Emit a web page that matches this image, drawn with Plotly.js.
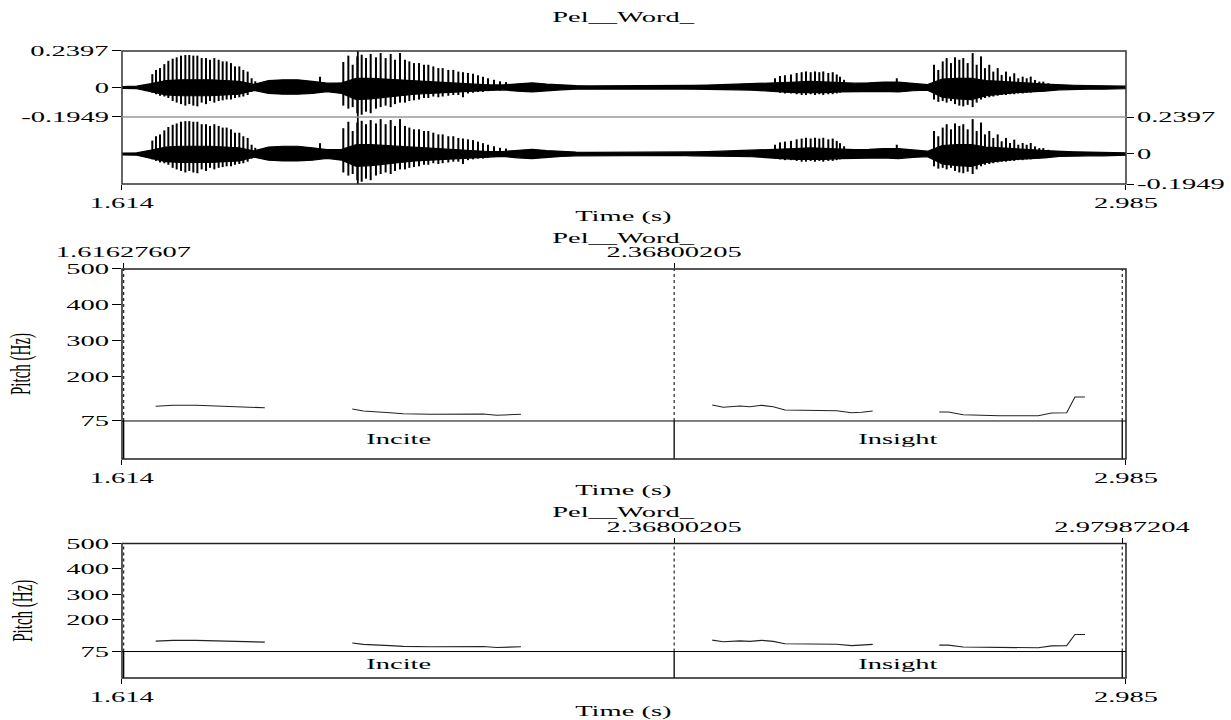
<!DOCTYPE html>
<html>
<head>
<meta charset="utf-8">
<script src="https://cdn.plot.ly/plotly-3.0.1.min.js"></script>
<style>
  html, body { margin: 0; padding: 0; background: #fff; }
  #chart { width: 1231px; height: 720px; }
</style>
</head>
<body>
<div id="chart"></div>
<script>
// ---------------- DATA ----------------
const tierName = 'Pel__Word_';
const timeRange = [1.614, 2.985];
const timeTickText = ['1.614', '2.985'];

const ampRange = [-0.1949, 0.2397];
const ampTickVals = [-0.1949, 0, 0.2397];
const ampTickText = ['-0.1949', '0', '0.2397'];

// waveform body envelope (continuous band), read every 20 ms
const bodyTime = [
  1.614,1.634,1.654,1.674,1.694,1.714,1.734,1.754,1.774,1.794,
  1.814,1.834,1.854,1.874,1.894,1.914,1.934,1.954,1.974,1.994,
  2.014,2.034,2.054,2.074,2.094,2.114,2.134,2.154,2.174,2.194,
  2.214,2.234,2.254,2.274,2.294,2.314,2.334,2.354,2.374,2.394,
  2.414,2.434,2.454,2.474,2.494,2.514,2.534,2.554,2.574,2.594,
  2.614,2.634,2.654,2.674,2.694,2.714,2.734,2.754,2.774,2.794,
  2.814,2.834,2.854,2.874,2.894,2.914,2.934,2.954,2.974,2.985
];
const bodyTop = [
  .006,.008,.025,.045,.05,.05,.05,.045,.04,.02,
  .045,.05,.05,.04,.028,.03,.06,.06,.055,.05,
  .045,.04,.035,.03,.022,.016,.016,.025,.03,.022,
  .016,.012,.01,.01,.01,.009,.01,.01,.011,.013,
  .015,.018,.02,.022,.025,.03,.035,.04,.035,.03,
  .028,.03,.035,.035,.028,.018,.055,.06,.06,.045,
  .04,.032,.028,.022,.016,.014,.012,.012,.01,.008
];
const bodyBot = [
  -.006,-.008,-.03,-.05,-.055,-.055,-.055,-.05,-.045,-.02,
  -.04,-.045,-.045,-.04,-.028,-.04,-.08,-.075,-.065,-.055,
  -.045,-.04,-.035,-.03,-.025,-.02,-.016,-.025,-.03,-.022,
  -.016,-.012,-.012,-.01,-.01,-.01,-.01,-.01,-.01,-.012,
  -.015,-.016,-.016,-.018,-.022,-.03,-.035,-.035,-.035,-.03,
  -.026,-.026,-.026,-.03,-.022,-.018,-.065,-.075,-.08,-.055,
  -.045,-.035,-.03,-.025,-.016,-.014,-.012,-.012,-.01,-.008
];

// glottal pulse spikes: time, positive peak, negative trough
const spikeTime = [
  1.6554,1.6604,1.6659,1.6718,1.6773,1.6832,1.6887,1.6946,1.7005,1.7059,
  1.7114,1.7169,1.7228,1.7287,1.7342,1.7401,1.7460,1.7515,1.7569,1.7628,
  1.7683,1.7742,1.7797,1.7856,1.7910,1.7960,1.8844,
  1.9162,1.9231,1.9290,1.9353,1.9413,1.9472,1.9536,1.9608,1.9672,1.9740,
  1.9809,1.9868,1.9936,2.0004,2.0064,2.0127,2.0196,2.0264,2.0323,2.0391,
  2.0460,2.0519,2.0596,2.0664,2.0733,2.0796,2.0864,2.0933,2.1001,2.1069,
  2.1138,2.1220,2.1302,2.1384,
  2.5057,2.5125,2.5193,2.5275,2.5353,2.5421,2.5480,2.5544,2.5603,2.5662,
  2.5716,2.5785,2.5845,2.5900,2.5945,2.6000,2.6720,
  2.7228,2.7287,2.7347,2.7401,2.7460,2.7515,2.7574,2.7628,2.7688,2.7756,
  2.7811,2.7870,2.7924,2.7983,2.8038,2.8098,2.8152,2.8211,2.8266,2.8324,
  2.8379,2.8439,2.8494,2.8549,2.8607,2.8666,2.8721,2.8789
];
const spikeTop = [
  .087,.115,.127,.153,.175,.189,.198,.209,.213,.213,
  .209,.209,.193,.193,.182,.193,.182,.171,.171,.160,
  .138,.138,.115,.104,.06,.04,.07,
  .167,.209,.149,.204,.215,.193,.220,.198,.226,.193,
  .220,.182,.226,.182,.171,.160,.160,.149,.149,.138,
  .127,.127,.115,.115,.104,.10,.095,.09,.08,.07,
  .06,.05,.04,.035,
  .06,.075,.08,.085,.095,.10,.105,.10,.105,.10,
  .105,.095,.10,.085,.07,.05,.06,
  .149,.115,.171,.193,.160,.198,.182,.193,.160,.226,
  .149,.204,.127,.149,.104,.127,.082,.104,.071,.093,
  .06,.071,.06,.071,.049,.038,.038,.027
];
const spikeBot = [
  -.035,-.045,-.055,-.06,-.07,-.09,-.10,-.11,-.12,-.11,
  -.12,-.125,-.10,-.11,-.09,-.10,-.09,-.085,-.08,-.08,
  -.07,-.065,-.06,-.05,-.03,-.02,-.03,
  -.12,-.14,-.13,-.17,-.18,-.16,-.17,-.14,-.13,-.12,
  -.13,-.11,-.10,-.10,-.09,-.085,-.08,-.07,-.07,-.06,
  -.065,-.06,-.055,-.05,-.05,-.065,-.04,-.035,-.03,-.03,
  -.025,-.02,-.02,-.015,
  -.03,-.035,-.04,-.04,-.045,-.05,-.05,-.045,-.05,-.045,
  -.05,-.045,-.045,-.04,-.035,-.03,-.03,
  -.08,-.095,-.09,-.10,-.09,-.11,-.12,-.125,-.115,-.13,
  -.10,-.08,-.07,-.065,-.06,-.055,-.05,-.05,-.045,-.045,
  -.04,-.04,-.035,-.035,-.03,-.03,-.025,-.02
];
const cursorTime = [1.936];

// pitch contour (Hz), null = unvoiced gap
const pitchTime = [
  1.660,1.684,1.715,1.755,1.775,1.809, null,
  1.9285,1.9436,1.980,1.998,2.0346,2.1074,2.1256,2.1438,2.1588, null,
  2.4200,2.4350,2.4579,2.4715,2.4875,2.5033,2.5193,2.5580,2.5899,2.6104,2.6240,2.6391, null,
  2.7300,2.7423,2.7628,2.8129,2.8652,2.8834,2.9040,2.9153,2.9290
];
const pitchHz = [
  116,119,119,116,113,112, null,
  108.6,103,98.2,95.4,93.7,94.6,91,92.6,93.7, null,
  119.7,113.3,117,115,118.9,115,105.8,103.8,103.8,98.2,99.3,103, null,
  100.2,100.2,92.6,89.8,89.8,97.4,98.2,142.1,142.1
];
const pitchRange = [75, 500];
const pitchTicks = [75, 200, 300, 400, 500];

// TextGrid tier
const boundaries = [1.61627607, 2.36800205, 2.97987204];
const boundaryLabels = ['1.61627607', '2.36800205', '2.97987204'];
const intervalLabels = ['Incite', 'Insight'];

// ---------------- LAYOUT CONSTANTS ----------------
const X_DOM = [0.0991, 0.9147];
const CH1 = [0.8375, 0.9292], CH2 = [0.7444, 0.8375];
const P2 = [0.4153, 0.6264], T2 = [0.3625, 0.4153];
const P3 = [0.0951, 0.2451], T3 = [0.0583, 0.0951];
const FONT = { family: 'Liberation Serif, Times New Roman, serif', size: 15, color: '#000' };
const STRETCH = 1.9;

function vSegs(xs, y0s, y1s) {
  const x = [], y = [];
  xs.forEach((t, i) => { x.push(t, t, null); y.push(y0s[i], y1s[i], null); });
  return { x, y };
}
const constArr = (n, v) => Array(n).fill(v);

const traces = [];
// waveform – both channels
const polyX = bodyTime.concat(bodyTime.slice().reverse());
const polyY = bodyTop.concat(bodyBot.slice().reverse());
const spk = vSegs(spikeTime, spikeBot, spikeTop);
const cur = vSegs(cursorTime, [ampRange[0]], [ampRange[1]]);
['y', 'y2'].forEach(ya => {
  traces.push({ x: polyX, y: polyY, xaxis: 'x', yaxis: ya, mode: 'lines', fill: 'toself',
    fillcolor: '#000', line: { color: '#000', width: 1.2 }, hoverinfo: 'skip' });
  traces.push({ x: spk.x, y: spk.y, xaxis: 'x', yaxis: ya, mode: 'lines',
    line: { color: '#000', width: 2 }, hoverinfo: 'skip' });
  traces.push({ x: cur.x, y: cur.y, xaxis: 'x', yaxis: ya, mode: 'lines',
    line: { color: '#000', width: 1.8 }, hoverinfo: 'skip' });
});

// pitch + tier panels
const centers = intervalLabels.map((_, i) => (boundaries[i] + boundaries[i + 1]) / 2);
[['x3', 'y3', 'y4', 'x5'], ['x4', 'y5', 'y6', 'x6']].forEach(([xa, yp, yt, xtop]) => {
  traces.push({ x: pitchTime, y: pitchHz, xaxis: xa, yaxis: yp, mode: 'lines',
    connectgaps: false, line: { color: '#222', width: 1.1 }, hoverinfo: 'skip' });
  const bd = vSegs(boundaries, constArr(3, pitchRange[0]), constArr(3, pitchRange[1]));
  traces.push({ x: bd.x, y: bd.y, xaxis: xtop, yaxis: yp, mode: 'lines',
    line: { color: '#222', width: 1.2, dash: 'dot' }, hoverinfo: 'skip' });
  const bt = vSegs(boundaries, constArr(3, 0), constArr(3, 1));
  traces.push({ x: bt.x, y: bt.y, xaxis: xa, yaxis: yt, mode: 'lines',
    line: { color: '#000', width: 1.3 }, hoverinfo: 'skip' });
  traces.push({ x: centers, y: [0.5, 0.5], xaxis: xa, yaxis: yt, mode: 'text',
    text: intervalLabels, textfont: FONT, textposition: 'middle center', hoverinfo: 'skip' });
});

const baseX = { domain: X_DOM, range: timeRange, showgrid: false, zeroline: false, showline: false,
  tickfont: FONT, tickcolor: '#000', ticks: 'outside', ticklen: 5, tickwidth: 1 };
const baseY = { showgrid: false, zeroline: false, showline: false, tickfont: FONT,
  tickcolor: '#000', tickwidth: 1 };

const layout = {
  width: 1231, height: 720,
  margin: { l: 0, r: 0, t: 0, b: 0 },
  paper_bgcolor: '#fff', plot_bgcolor: 'rgba(0,0,0,0)',
  showlegend: false, font: FONT,
  xaxis: Object.assign({}, baseX, { anchor: 'y2', tickvals: timeRange, ticktext: timeTickText }),
  yaxis: Object.assign({}, baseY, { domain: CH1, range: ampRange, anchor: 'x',
    tickvals: ampTickVals, ticktext: ampTickText, ticks: 'outside', ticklen: 9 }),
  yaxis2: Object.assign({}, baseY, { domain: CH2, range: ampRange, anchor: 'x', side: 'right',
    tickvals: ampTickVals, ticktext: ampTickText, ticks: 'outside', ticklen: 7 }),
  xaxis3: Object.assign({}, baseX, { anchor: 'y4', tickvals: timeRange, ticktext: timeTickText }),
  yaxis3: Object.assign({}, baseY, { domain: P2, range: pitchRange, anchor: 'x3',
    tickvals: pitchTicks, ticks: 'outside', ticklen: 9 }),
  yaxis4: Object.assign({}, baseY, { domain: T2, range: [0, 1], anchor: 'x3',
    showticklabels: false, ticks: '' }),
  xaxis5: Object.assign({}, baseX, { anchor: 'y3', side: 'top',
    tickvals: boundaries.slice(0, 2), ticktext: boundaryLabels.slice(0, 2), ticklen: 5 }),
  xaxis4: Object.assign({}, baseX, { anchor: 'y6', tickvals: timeRange, ticktext: timeTickText }),
  yaxis5: Object.assign({}, baseY, { domain: P3, range: pitchRange, anchor: 'x4',
    tickvals: pitchTicks, ticks: 'outside', ticklen: 9 }),
  yaxis6: Object.assign({}, baseY, { domain: T3, range: [0, 1], anchor: 'x4',
    showticklabels: false, ticks: '' }),
  xaxis6: Object.assign({}, baseX, { anchor: 'y5', side: 'top',
    tickvals: boundaries.slice(1, 3), ticktext: boundaryLabels.slice(1, 3), ticklen: 5 }),
  shapes: [],
  annotations: []
};

function frame(y0, y1, color, w) {
  layout.shapes.push({ type: 'rect', xref: 'paper', yref: 'paper', x0: X_DOM[0], x1: X_DOM[1],
    y0: y0, y1: y1, line: { color: color, width: w }, fillcolor: 'rgba(0,0,0,0)' });
}
function hline(y, color, w) {
  layout.shapes.push({ type: 'line', xref: 'paper', yref: 'paper', x0: X_DOM[0], x1: X_DOM[1],
    y0: y, y1: y, line: { color: color, width: w } });
}
frame(CH2[0], CH1[1], '#333', 1.5);
hline(CH1[0], '#999', 1.5);
frame(T2[0], P2[1], '#222', 1.5);
hline(P2[0], '#000', 1);
frame(T3[0], P3[1], '#222', 1.5);
hline(P3[0], '#000', 1);

const midX = (X_DOM[0] + X_DOM[1]) / 2;
function ann(text, x, y, yshift, extra) {
  layout.annotations.push(Object.assign({ text: text, xref: 'paper', yref: 'paper', x: x, y: y,
    xanchor: 'center', yanchor: 'middle', yshift: yshift, showarrow: false, font: FONT }, extra || {}));
}
ann(tierName, midX, CH1[1], 33.5);
ann(tierName, midX, P2[1], 31);
ann(tierName, midX, P3[1], 31.5);
ann('Time (s)', midX, CH2[0], -32);
ann('Time (s)', midX, T2[0], -32);
ann('Time (s)', midX, T3[0], -33);
ann('Pitch (Hz)', X_DOM[0], (T2[0] + P2[1]) / 2, 0, { textangle: -90, xshift: -100 });
ann('Pitch (Hz)', X_DOM[0], (T3[0] + P3[1]) / 2, 0, { textangle: -90, xshift: -98 });

function rotatedAngle(el) {
  let n = el;
  while (n && n.getAttribute) {
    const tr = n.getAttribute('transform') || '';
    const m = tr.match(/rotate\(\s*(-?[\d.]+)/);
    if (m && Math.abs(parseFloat(m[1])) > 0.01) return true;
    n = n.parentNode;
  }
  return false;
}
function stretchTexts(gd, k) {
  gd.querySelectorAll('svg text').forEach(t => {
    if (!t.textContent || !t.textContent.trim()) return;
    const bb = t.getBBox();
    if (!bb.width) return;
    const own = t.getAttribute('transform') || '';
    let s;
    if (rotatedAngle(t)) {
      const cy = bb.y + bb.height / 2;
      s = 'translate(0,' + cy + ') scale(1,' + k + ') translate(0,' + (-cy) + ')';
    } else {
      const anchor = t.getAttribute('text-anchor') || 'start';
      const ox = anchor === 'end' ? bb.x + bb.width : (anchor === 'middle' ? bb.x + bb.width / 2 : bb.x);
      s = 'translate(' + ox + ',0) scale(' + k + ',1) translate(' + (-ox) + ',0)';
    }
    t.setAttribute('transform', (own + ' ' + s).trim());
  });
}

const gd = document.getElementById('chart');
Plotly.newPlot(gd, traces, layout, { staticPlot: true, displayModeBar: false })
  .then(() => stretchTexts(gd, STRETCH));
</script>
</body>
</html>
